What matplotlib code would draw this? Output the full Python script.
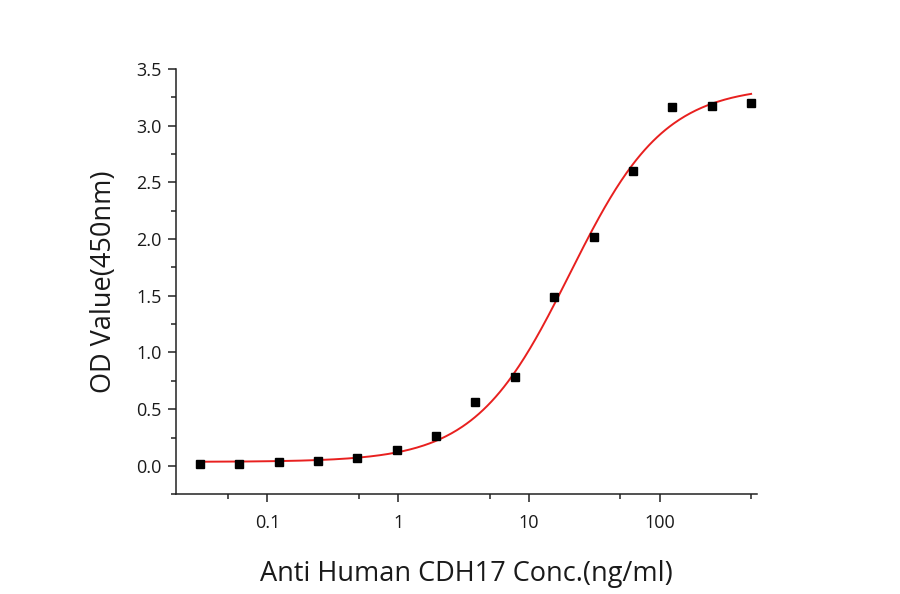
import numpy as np
import matplotlib
matplotlib.use("Agg")
import matplotlib.pyplot as plt
from matplotlib.ticker import FixedLocator, FuncFormatter, MultipleLocator

plt.rcParams["font.family"] = ["Open Sans", "DejaVu Sans"]

# Measured points (two-fold dilution series)
conc = [0.0305, 0.061, 0.122, 0.244, 0.488, 0.977, 1.95, 3.9,
        7.8, 15.6, 31.25, 62.5, 125, 250, 500]
od = [0.02, 0.02, 0.03, 0.045, 0.07, 0.14, 0.26, 0.56,
      0.78, 1.49, 2.02, 2.60, 3.16, 3.17, 3.20]

# 4PL fit parameters of the red curve
fit_bottom = 0.035
fit_top = 3.35
fit_ec50 = 20.5
fit_hill = 1.2

x_ticks = [0.1, 1, 10, 100]
x_minor = [0.05, 0.5, 5, 50, 500]

text_col = "#1a1a1a"

fig = plt.figure(figsize=(9, 5.94), dpi=100)
ax = fig.add_axes([0.1956, 0.168, 0.645, 0.716])

xs = np.logspace(np.log10(conc[0]), np.log10(conc[-1]), 400)
ys = fit_bottom + (fit_top - fit_bottom) / (1 + (fit_ec50 / xs) ** fit_hill)
ax.plot(xs, ys, color="#e8201f", lw=1.4, zorder=2)
ax.plot(conc, od, ls="none", marker="s", ms=6.2, color="black", zorder=3)

ax.set_xscale("log")
ax.set_xlim(0.02, 550)
ax.set_ylim(-0.25, 3.5)
ax.xaxis.set_major_locator(FixedLocator(x_ticks))
ax.xaxis.set_minor_locator(FixedLocator(x_minor))
ax.xaxis.set_major_formatter(FuncFormatter(lambda v, p: f"{v:g}"))
ax.xaxis.set_minor_formatter(FuncFormatter(lambda v, p: ""))
ax.yaxis.set_major_locator(FixedLocator(np.arange(0, 3.51, 0.5)))
ax.yaxis.set_minor_locator(MultipleLocator(0.25))
ax.yaxis.set_major_formatter(FuncFormatter(lambda v, p: f"{v:.1f}"))

for s in ["top", "right"]:
    ax.spines[s].set_visible(False)
for s in ["left", "bottom"]:
    ax.spines[s].set_linewidth(1.1)
    ax.spines[s].set_color("#222222")
ax.tick_params(which="major", length=5.5, width=1.1, labelsize=13,
               colors="#222222", labelcolor=text_col, pad=5)
ax.tick_params(which="minor", length=3.5, width=1.1, colors="#222222")
ax.tick_params(axis="x", which="major", pad=9)

ax.set_xlabel("Anti Human CDH17 Conc.(ng/ml)", fontsize=19.5,
              color=text_col, labelpad=20)
ax.set_ylabel("OD Value(450nm)", fontsize=19.5, color=text_col, labelpad=13)

fig.savefig("out.png", dpi=100)
